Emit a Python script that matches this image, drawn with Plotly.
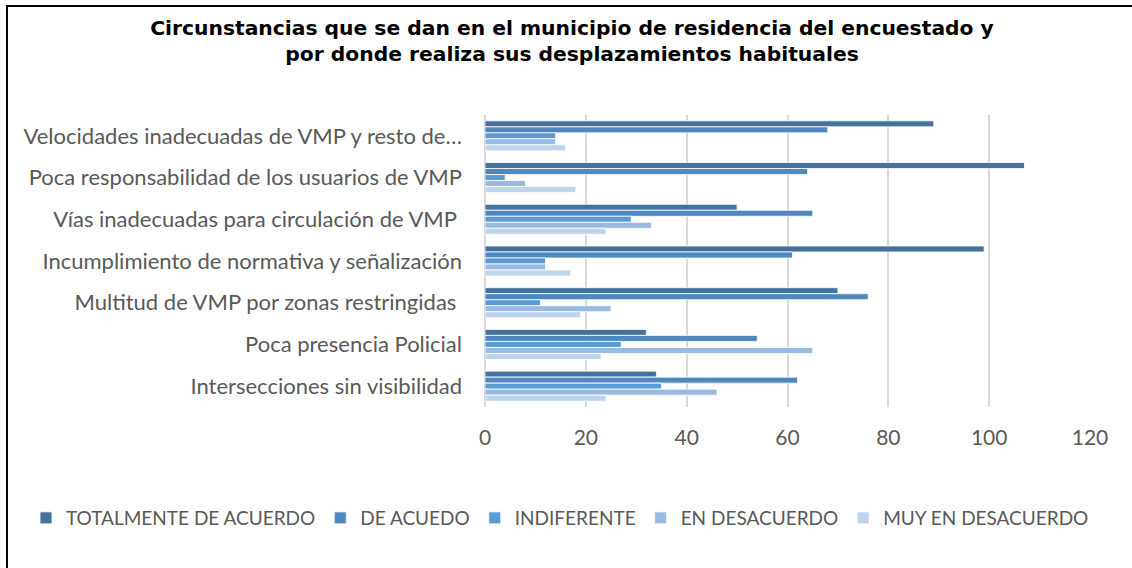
import plotly.graph_objects as go

categories = [
    "Velocidades inadecuadas de VMP y resto de…",
    "Poca responsabilidad de los usuarios de VMP",
    "Vías inadecuadas para circulación de VMP ",
    "Incumplimiento de normativa y señalización",
    "Multitud de VMP por zonas restringidas ",
    "Poca presencia Policial",
    "Intersecciones sin visibilidad",
]
series_names = ["TOTALMENTE DE ACUERDO", "DE ACUEDO", "INDIFERENTE", "EN DESACUERDO", "MUY EN DESACUERDO"]
totalmente = [89, 107, 50, 99, 70, 32, 34]
de_acuerdo = [68, 64, 65, 61, 76, 54, 62]
indiferente = [14, 4, 29, 12, 11, 27, 35]
en_desacuerdo = [14, 8, 33, 12, 25, 65, 46]
muy_en_desacuerdo = [16, 18, 24, 17, 19, 23, 24]
x_ticks = [0, 20, 40, 60, 80, 100, 120]
colors = ["#44729D", "#4E88BE", "#5B9BD5", "#98B9E0", "#BED3EC"]

values = [totalmente, de_acuerdo, indiferente, en_desacuerdo, muy_en_desacuerdo]

fig = go.Figure()
for name, vals, col in zip(series_names, values, colors):
    fig.add_trace(go.Bar(
        y=categories, x=vals, name=name, orientation="h",
        marker=dict(color=col, line=dict(color="white", width=0.8)),
    ))

FONT = "Lato, Calibri, sans-serif"
L, R, T, B = 485, 42, 115, 161
PW, PH = 1132 - L - R, 568 - T - B


def px_x(p):
    return (p - L) / PW


def px_y(p):
    return (568 - B - p) / PH


fig.update_layout(
    width=1132, height=568,
    paper_bgcolor="white", plot_bgcolor="white",
    barmode="group", bargap=0.28, bargroupgap=0,
    margin=dict(l=L, r=R, t=T, b=B, pad=0),
    title=dict(
        text="<b>Circunstancias que se dan en el municipio de residencia del encuestado y<br>por donde realiza sus desplazamientos habituales</b>",
        x=572 / 1132, xanchor="center", xref="container",
        y=1 - 35 / 568, yanchor="top", yref="container", pad=dict(t=0, b=0, l=0, r=0),
        font=dict(family="DejaVu Sans, sans-serif", size=20.3, color="black"),
    ),
    xaxis=dict(
        range=[0, 120], tickvals=x_ticks, showgrid=True, gridcolor="#D9D9D9", gridwidth=1.5,
        zeroline=True, zerolinecolor="#D9D9D9", zerolinewidth=1.5,
        tickfont=dict(family=FONT, size=21, color="#595959"), ticks="", ticklabelstandoff=16,
    ),
    yaxis=dict(
        autorange="reversed", showgrid=False, ticks="",
        tickfont=dict(family=FONT, size=22, color="#595959"), ticklabelstandoff=22,
    ),
    legend=dict(
        orientation="h", xref="paper", yref="paper",
        x=px_x(26), xanchor="left", y=px_y(518), yanchor="middle",
        font=dict(family=FONT, size=19, color="#595959"),
        itemwidth=30, traceorder="normal",
    ),
    shapes=[
        dict(type="rect", xref="paper", yref="paper", x0=px_x(7), x1=px_x(1145),
             y0=px_y(6), y1=px_y(580), line=dict(color="black", width=2),
             fillcolor="rgba(0,0,0,0)", layer="above"),
    ],
)

fig.write_html(
    "out.html",
    config={"displayModeBar": False},
    post_script="document.body.style.margin='0';document.body.style.padding='0';",
)
